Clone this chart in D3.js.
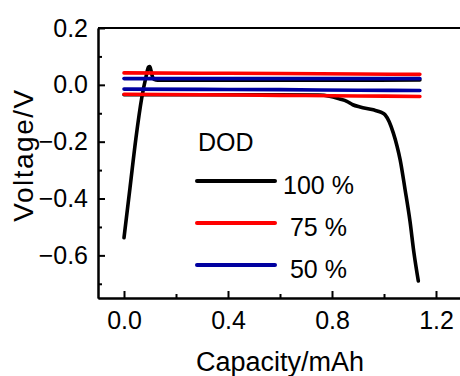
<!DOCTYPE html>
<html>
<head>
<meta charset="utf-8">
<script src="https://cdn.jsdelivr.net/npm/d3@7"></script>
<style>
  body { margin: 0; background: #fff; }
  text { font-family: Arial, "Liberation Sans", sans-serif; fill: #000; }
</style>
</head>
<body>
<svg width="460" height="376"></svg>
<script>
// data: capacity (mAh) and voltage (V)
// 100 % DOD, charge branch (rises to a peak, then a flat plateau hidden under the blue line)
var dod100ChargeCap = [0, 0.023, 0.046, 0.068, 0.085, 0.094, 0.099, 0.104, 0.109, 0.116, 0.13, 0.5, 0.9, 1.138];
var dod100ChargeVolt = [-0.538, -0.363, -0.187, -0.047, 0.03, 0.062, 0.064, 0.05, 0.03, 0.019, 0.016, 0.016, 0.016, 0.017];
// 100 % DOD, discharge branch
var dod100Cap = [0, 0.2, 0.4, 0.6, 0.75, 0.79, 0.83, 0.857, 0.88, 0.908, 0.959, 0.99, 1.004, 1.02, 1.036, 1.05, 1.062, 1.081, 1.1, 1.115, 1.132];
var dod100Volt = [-0.035, -0.035, -0.035, -0.035, -0.036, -0.04, -0.05, -0.058, -0.07, -0.078, -0.088, -0.097, -0.105, -0.13, -0.17, -0.215, -0.263, -0.368, -0.48, -0.59, -0.69];

var dod75Cap = [0, 0.3, 0.6, 0.9, 1.138];
var dod75Top = [0.042, 0.041, 0.04, 0.038, 0.037];
var dod75Bottom = [-0.033, -0.035, -0.037, -0.039, -0.041];

var dod50Cap = [0, 0.3, 0.6, 0.9, 1.138];
var dod50Top = [0.022, 0.022, 0.022, 0.022, 0.022];
var dod50Bottom = [-0.015, -0.016, -0.017, -0.019, -0.02];

var legendLabels = ["100 %", " 75 %", " 50 %"];
var legendColors = ["#000000", "#ff0000", "#0000a0"];

var xMajor = [0, 0.4, 0.8, 1.2],
    xMinor = [0.2, 0.6, 1.0],
    yMajor = [0.2, 0, -0.2, -0.4, -0.6],
    yMinor = [0.1, -0.1, -0.3, -0.5, -0.7];

var svg = d3.select("svg"),
    margin = {top: 28, right: -2, bottom: 78, left: 98},
    width = +svg.attr("width") - margin.left - margin.right,
    height = +svg.attr("height") - margin.top - margin.bottom,
    g = svg.append("g").attr("transform", "translate(" + margin.left + "," + margin.top + ")");

var x = d3.scaleLinear().domain([-0.1, 1.3]).range([0, width]);
var y = d3.scaleLinear().domain([-0.75, 0.2]).range([height, 0]);

var line = d3.line()
    .x(function(d) { return x(d[0]); })
    .y(function(d) { return y(d[1]); })
    .curve(d3.curveMonotoneX);

function pairs(xs, ys) { return xs.map(function(v, i) { return [v, ys[i]]; }); }

// series, black first so red and blue sit on top of it
var series = [
  {color: legendColors[0], pts: pairs(dod100ChargeCap, dod100ChargeVolt)},
  {color: legendColors[0], pts: pairs(dod100Cap, dod100Volt)},
  {color: legendColors[1], pts: pairs(dod75Cap, dod75Top)},
  {color: legendColors[1], pts: pairs(dod75Cap, dod75Bottom)},
  {color: legendColors[2], pts: pairs(dod50Cap, dod50Top)},
  {color: legendColors[2], pts: pairs(dod50Cap, dod50Bottom)}
];

g.selectAll(".series")
  .data(series)
  .enter().append("path")
    .attr("class", "series")
    .attr("fill", "none")
    .attr("stroke", function(d) { return d.color; })
    .attr("stroke-width", 3.6)
    .attr("stroke-linecap", "round")
    .attr("stroke-linejoin", "round")
    .attr("d", function(d) { return line(d.pts); });

//AXES - ticks point inward
var xAxis = g.append("g")
    .attr("transform", "translate(0," + height + ")")
    .call(d3.axisBottom(x).tickValues(xMajor).tickSizeInner(-7).tickSizeOuter(0).tickPadding(16).tickFormat(d3.format(".1f")));
xAxis.selectAll(".tick text").attr("font-size", 25).attr("font-family", null).attr("dy", "0.71em").attr("y", 13);

var xMinorAxis = g.append("g")
    .attr("transform", "translate(0," + height + ")")
    .call(d3.axisBottom(x).tickValues(xMinor).tickSizeInner(-4).tickSizeOuter(0).tickFormat(""));

var yAxis = g.append("g")
    .call(d3.axisLeft(y).tickValues(yMajor).tickSizeInner(-7).tickSizeOuter(0).tickPadding(17).tickFormat(d3.format(".1f")));
yAxis.selectAll(".tick text").attr("font-size", 25).attr("font-family", null).attr("x", -10);

var yMinorAxis = g.append("g")
    .call(d3.axisLeft(y).tickValues(yMinor).tickSizeInner(-4).tickSizeOuter(0).tickFormat(""));

[xAxis, xMinorAxis, yAxis, yMinorAxis].forEach(function(a) {
  a.selectAll("line").attr("stroke-width", 2);
  a.select(".domain").attr("stroke-width", 2);
});

// top frame line
g.append("line")
    .attr("x1", 0).attr("x2", width)
    .attr("y1", 0).attr("y2", 0)
    .attr("stroke", "#000")
    .attr("stroke-width", 2);

//axis titles
svg.append("text")
    .attr("x", margin.left + width / 2)
    .attr("y", 371)
    .attr("text-anchor", "middle")
    .attr("font-size", 27)
    .text("Capacity/mAh");

svg.append("text")
    .attr("transform", "translate(33," + (margin.top + height / 2 - 8) + ") rotate(-90)")
    .attr("text-anchor", "middle")
    .attr("font-size", 28)
    .attr("letter-spacing", 1.5)
    .text("Voltage/V");

//LEGEND
var legend = svg.append("g");

legend.append("text")
    .attr("x", 198)
    .attr("y", 151)
    .attr("font-size", 25)
    .text("DOD");

var item = legend.selectAll(".item")
  .data(legendLabels)
  .enter().append("g")
    .attr("class", "item")
    .attr("transform", function(d, i) { return "translate(0," + (181 + i * 42) + ")"; });

item.append("line")
    .attr("x1", 197).attr("x2", 275)
    .attr("stroke", function(d, i) { return legendColors[i]; })
    .attr("stroke-width", 4)
    .attr("stroke-linecap", "round");

item.append("text")
    .attr("x", 283)
    .attr("y", 13)
    .attr("font-size", 25)
    .style("white-space", "pre")
    .text(function(d) { return d; });
</script>
</body>
</html>
